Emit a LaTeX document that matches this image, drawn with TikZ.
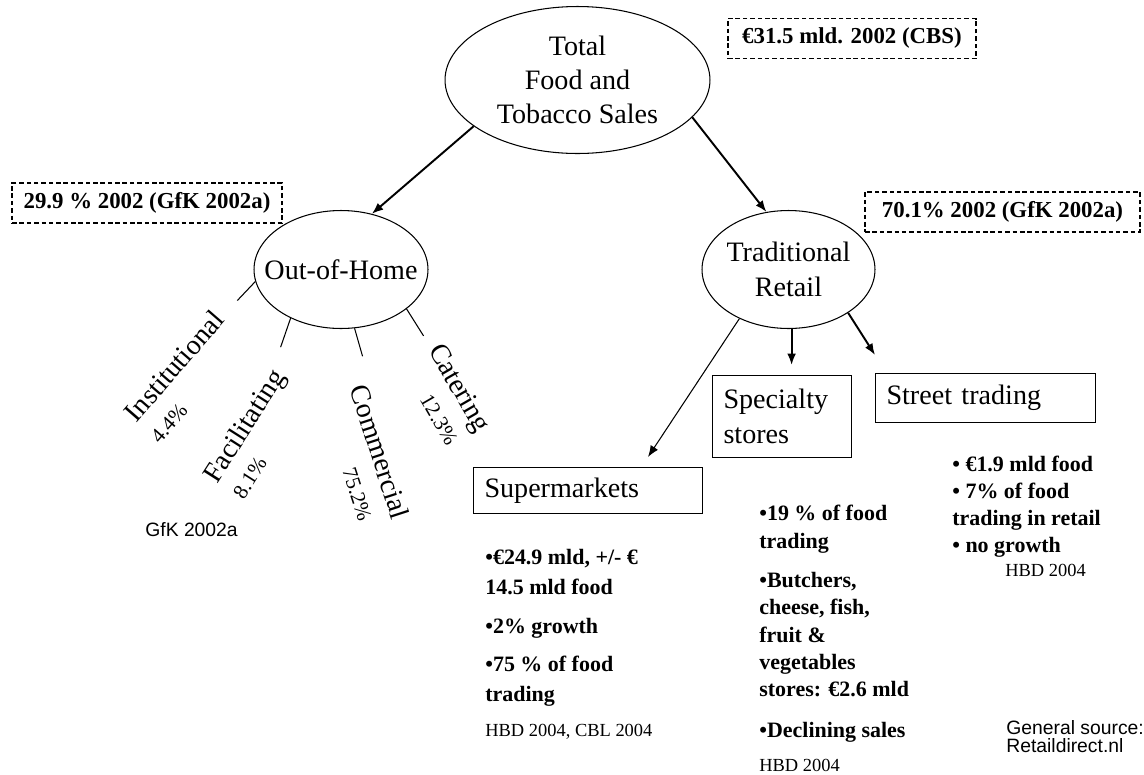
\documentclass[tikz,border=0pt]{standalone}
\usepackage{fontspec}
\setmainfont{Liberation Serif}
\setsansfont{Liberation Sans}
\usetikzlibrary{shapes.geometric, arrows.meta, calc}
\tikzset{
  el/.style={ellipse, draw=black, line width=0.6pt, align=center, inner sep=0pt, font=\fontsize{16}{19.5}\selectfont},
  bx/.style={rectangle, draw=black, line width=0.6pt, anchor=north west, align=left, inner xsep=0.22cm, inner ysep=0pt, font=\fontsize{16}{20}\selectfont},
  db/.style={rectangle, draw=black, line width=0.9pt, dash pattern=on 2.6pt off 1.6pt, inner sep=0pt, minimum height=0.8cm, font=\bfseries\fontsize{13}{15}\selectfont},
  seg/.style={inner sep=0pt, font=\fontsize{16}{19}\selectfont},
  pct/.style={inner sep=0pt, font=\fontsize{12}{14}\selectfont},
  bul/.style={anchor=north west, align=left, inner sep=0pt, font=\bfseries\fontsize{12.5}{16}\selectfont},
  src/.style={anchor=west, inner sep=0pt, font=\fontsize{10.5}{12}\selectfont},
  arr/.style={-{Latex[length=6.5pt,width=5pt]}, line width=1.1pt},
  tarr/.style={-{Latex[length=6.5pt,width=5pt]}, line width=0.6pt},
  ln/.style={line width=0.6pt}
}
\begin{document}
\begin{tikzpicture}[x=0.02cm, y=-0.02cm]
	\useasboundingbox (0,0) rectangle (1144,775);
	\node[el, minimum width=5.3cm, minimum height=2.94cm] (tot) at (577.5,80) {Total\\Food and\\Tobacco Sales};
	\node[el, minimum width=3.48cm, minimum height=2.36cm, inner xsep=-0.3cm] (oh) at (341,269.5) {Out-of-Home};
	\node[el, minimum width=3.46cm, minimum height=2.36cm, inner xsep=-0.15cm] (tr) at (788.5,269.5) {Traditional\\Retail};
	%
	\node[db, minimum width=4.96cm] (totval) at (852,38.5) {€31.5 mld. 2002 (CBS)};
	\node[db, minimum width=5.4cm] (ohval) at (147,203) {29.9 \% 2002 (GfK 2002a)};
	\node[db, minimum width=5.5cm] (trval) at (1002.5,212) {70.1\% 2002 (GfK 2002a)};
	%
	\node[bx, minimum height=0.92cm, text width=4.14cm] (sm) at (473,467) {Supermarkets};
	\node[bx, minimum height=1.64cm, text width=2.34cm] (sp) at (712,375) {Specialty\\stores};
	\node[bx, minimum height=0.98cm, text width=3.96cm] (st) at (875,373) {Street trading};
	%
	\draw[arr] (tot.204) -- (oh.61);
	\draw[arr] (tot.342.5) -- (tr.111.5);
	\draw[arr, shorten >=0.2cm] (tr.273) -- (tr.273 |- sp.north);
	\draw[arr] (tr.324.5) -- ($(st.north west)+(0,-18)$);
	\draw[tarr] (tr.225) -- ($(sm.north east)+(-55,-10)$);
	%
	\draw[ln] (oh.188.7) -- ++(-18,19);
	\draw[ln] (oh.224) -- ++(-10,29);
	\draw[ln] (oh.283.5) -- ++(8,28);
	\draw[ln] (oh.329) -- ++(17,27);
	%
	\node[seg, rotate=49] (inst) at (174,366) {Institutional};
	\node[pct, rotate=49] (instp) at (169,423) {4.4\%};
	\node[seg, rotate=57.5] (fac) at (246,427) {Facilitating};
	\node[pct, rotate=57.5] (facp) at (250,478) {8.1\%};
	\node[seg, rotate=-72] (com) at (380,452) {Commercial};
	\node[pct, rotate=-72] (comp) at (357,494) {75.2\%};
	\node[seg, rotate=-60] (cat) at (458,389) {Catering};
	\node[pct, rotate=-60] (catp) at (439,420) {12.3\%};
	\node[src, font=\sffamily\fontsize{11}{13}\selectfont] (ohsrc) at (145,530) {GfK 2002a};
	%
	\node[bul, font=\bfseries\fontsize{12.5}{17}\selectfont] (smtxt) at (485,549) {•€24.9 mld, +/- €\\14.5 mld food\\[5pt]•2\% growth\\[5pt]•75 \% of food\\trading};
	\node[src] (smsrc) at (485,732) {HBD 2004, CBL 2004};
	\node[bul, font=\bfseries\fontsize{12.5}{15.5}\selectfont] (sptxt) at (759,505) {•19 \% of food\\trading\\[7pt]•Butchers,\\cheese, fish,\\fruit \&\\vegetables\\stores: €2.6 mld\\[8pt]•Declining sales};
	\node[src] (spsrc) at (759,765) {HBD 2004};
	\node[bul, font=\bfseries\fontsize{12.5}{15.3}\selectfont] (sttxt) at (952,456) {• €1.9 mld food\\• 7\% of food\\trading in retail\\• no growth};
	\node[src] (stsrc) at (1005,570) {HBD 2004};
	\node[bul, font=\sffamily\fontsize{11}{10.5}\selectfont] (gen) at (1006,720) {General source:\\Retaildirect.nl};
\end{tikzpicture}
\end{document}
